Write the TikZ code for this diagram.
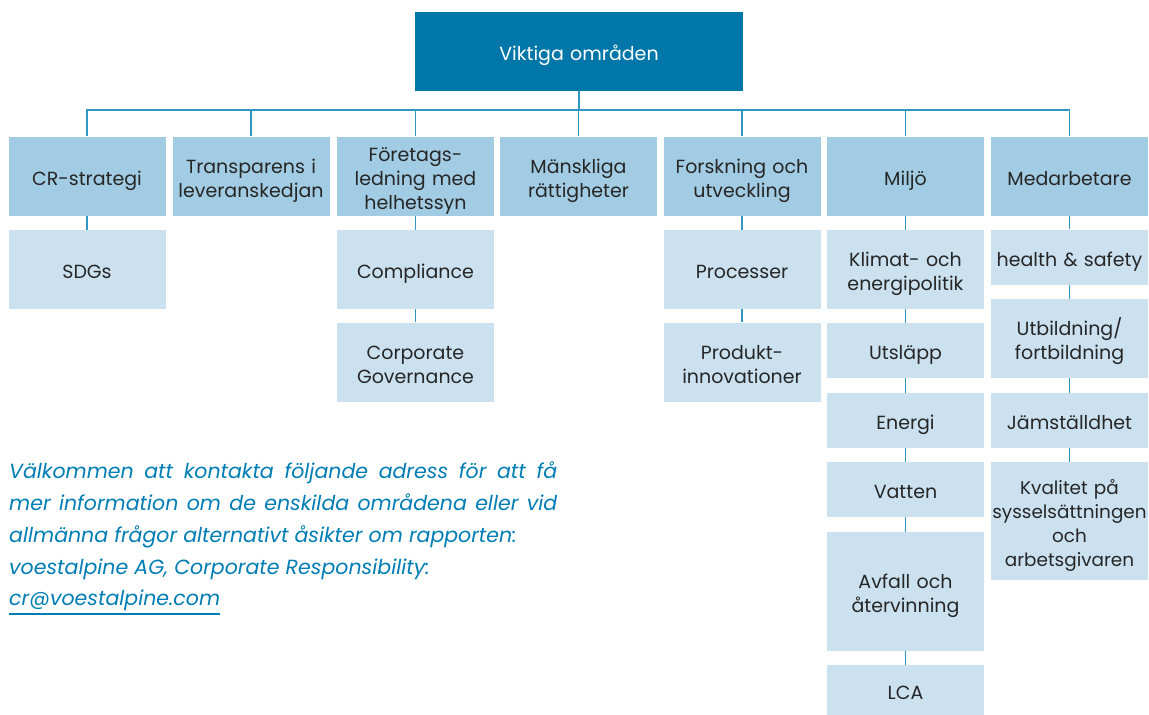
\documentclass[tikz,border=0pt]{standalone}
\usepackage{fontspec}
\setmainfont{Poppins}
\usetikzlibrary{positioning}
\definecolor{topblue}{RGB}{0,119,168}
\definecolor{midblue}{RGB}{162,204,227}
\definecolor{lightblue}{RGB}{203,225,239}
\definecolor{linkblue}{RGB}{48,150,198}
\definecolor{textgray}{RGB}{38,38,38}
\definecolor{noteblue}{RGB}{0,125,180}
\tikzset{%
  box/.style={
    rectangle,
    inner xsep=1pt,
    inner ysep=0pt,
    text width=155pt,
    align=center,
    text=textgray,
    font=\fontsize{19}{24}\selectfont,
    execute at begin node=\rule{0pt}{24pt},
    execute at end node=\rule[-6pt]{0pt}{6pt}
  },
  area/.style={box, fill=midblue, minimum height=79pt},
  topic/.style={box, fill=lightblue, minimum height=#1},
  topic/.default=79pt,
  link/.style={draw=linkblue, line width=1.1pt},
  note/.style={
    inner sep=0pt,
    text=noteblue,
    font=\fontsize{20.5}{32}\selectfont\itshape
  },
}

\begin{document}
\begin{tikzpicture}[x=1pt,y=-1pt]
    \useasboundingbox (0,0) rectangle (1149,715);

    \node[box, fill=topblue, text=white, text width=326pt, minimum height=79pt] (main) at (579,51.5) {Viktiga områden};

    % first level
    \node[area] (cr) at (87,176) {CR-strategi};
    \node[area] (supply) at (251,176) {Transparens i\\leveranskedjan};
    \node[area] (gov) at (415.5,176) {Företags-\\ledning med\\helhetssyn};
    \node[area] (rights) at (578.5,176) {Mänskliga\\rättigheter};
    \node[area] (rnd) at (742,176) {Forskning och\\utveckling};
    \node[area] (env) at (905.5,176) {Miljö};
    \node[area] (staff) at (1069.5,176) {Medarbetare};

    % second level
    \node[topic] (sdg) at (87,269.5) {SDGs};
    \node[topic] (compl) at (415.5,269.5) {Compliance};
    \node[topic] (corpgov) at (415.5,362) {Corporate\\Governance};
    \node[topic] (proc) at (742,269.5) {Processer};
    \node[topic] (innov) at (742,362) {Produkt-\\innovationer};
    \node[topic] (climate) at (905.5,269.5) {Klimat- och\\energipolitik};
    \node[topic=55pt] (emis) at (905.5,350.5) {Utsläpp};
    \node[topic=55pt] (energy) at (905.5,420.5) {Energi};
    \node[topic=55pt] (water) at (905.5,489.5) {Vatten};
    \node[topic=119pt] (waste) at (905.5,591.5) {Avfall och\\återvinning};
    \node[topic=50pt] (lca) at (905.5,690) {LCA};
    \node[topic=55pt] (health) at (1069.5,257) {health \& safety};
    \node[topic] (training) at (1069.5,338.5) {Utbildning/\\fortbildning};
    \node[topic=55pt] (equal) at (1069.5,420.5) {Jämställdhet};
    \node[topic=118pt, font=\fontsize{18.4}{24}\selectfont] (quality) at (1069.5,521) {Kvalitet på\\sysselsättningen\\och\\arbetsgivaren};

    \coordinate (bus) at (579,110);
    \draw[link] (main.south) -- (bus);
    \foreach \n in {cr,supply,gov,rights,rnd,env,staff}
        \draw[link] (bus) -| (\n.north);
    \foreach \a/\b in {cr/sdg,gov/compl,compl/corpgov,rnd/proc,proc/innov,
        env/climate,climate/emis,emis/energy,energy/water,water/waste,waste/lca,
        staff/health,health/training,training/equal,equal/quality}
        \draw[link] (\a) -- (\b);

    % contact text
    \node[note, text width=548pt, align=justify, anchor=north west] (contact) at (9,462) {Välkommen att kontakta följande adress för att få\linebreak mer information om de enskilda områdena eller vid\linebreak allmänna frågor alternativt åsikter om rapporten:\newline voestalpine AG, Corporate Responsibility:};
    \node[note, anchor=base west] (mail) at (9,605) {cr@voestalpine.com};
    \draw[draw=noteblue, line width=2pt] ([yshift=-3pt]mail.south west) -- ([yshift=-3pt]mail.south east);
\end{tikzpicture}
\end{document}
